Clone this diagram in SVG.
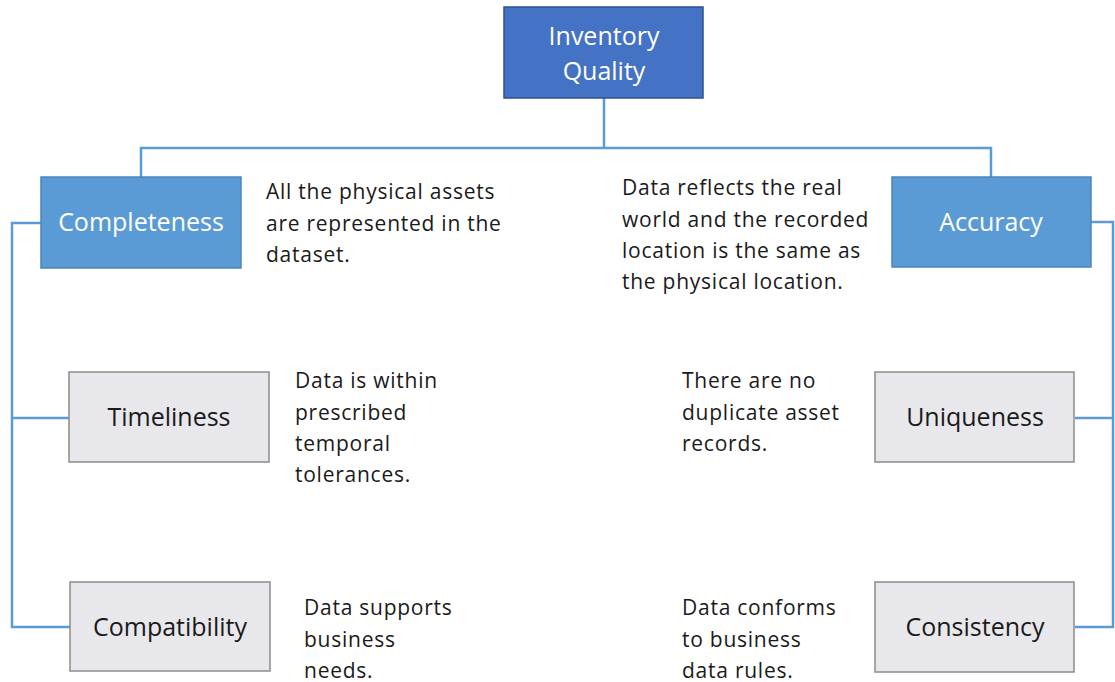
<svg xmlns="http://www.w3.org/2000/svg" width="1115" height="682" viewBox="0 0 1115 682">
<style>
.root{fill:#4472C4;stroke:#2F528F;stroke-width:1.5}
.l1{fill:#5B9BD5;stroke:#4A86BE;stroke-width:1.5}
.l2{fill:#E8E8EC;stroke:#8C8C8C;stroke-width:1.5}
.wt{font-family:"Open Sans",sans-serif;font-size:25px;fill:#FFFFFF;text-anchor:middle}
.bt{font-family:"Open Sans",sans-serif;font-size:25px;fill:#1A1A1A;text-anchor:middle}
.dt{font-family:"Open Sans",sans-serif;font-size:21px;fill:#1A1A1A;letter-spacing:0.75px}
.conn{fill:none;stroke:#5B9BD5;stroke-width:2.5}
</style>
<rect width="1115" height="682" fill="#FFFFFF"/>
<g id="connectors">
<path class="conn" d="M604,98 V148 M141,177 V148 H991 V177"/>
<path class="conn" d="M41,223 H12 V627 H70 M12,418 H70"/>
<path class="conn" d="M1091,222 H1113 V627 H1075 M1113,418 H1075"/>
</g>
<g id="inventory-quality">
<rect class="root" x="504" y="7" width="199" height="91"/>
<text class="wt" x="604" y="45">Inventory</text>
<text class="wt" x="604" y="80">Quality</text>
</g>
<g id="completeness">
<rect class="l1" x="41" y="177" width="200" height="91"/>
<text class="wt" x="141" y="231">Completeness</text>
</g>
<g id="completeness-desc">
<text class="dt" x="266" y="199">All the physical assets</text>
<text class="dt" x="266" y="231">are represented in the</text>
<text class="dt" x="266" y="262">dataset.</text>
</g>
<g id="accuracy">
<rect class="l1" x="892" y="177" width="199" height="90"/>
<text class="wt" x="991" y="231">Accuracy</text>
</g>
<g id="accuracy-desc">
<text class="dt" x="622" y="195">Data reflects the real</text>
<text class="dt" x="622" y="227">world and the recorded</text>
<text class="dt" x="622" y="258">location is the same as</text>
<text class="dt" x="622" y="289">the physical location.</text>
</g>
<g id="timeliness">
<rect class="l2" x="69" y="372" width="200" height="90"/>
<text class="bt" x="169" y="426">Timeliness</text>
</g>
<g id="timeliness-desc">
<text class="dt" x="295" y="388">Data is within</text>
<text class="dt" x="295" y="420">prescribed</text>
<text class="dt" x="295" y="451">temporal</text>
<text class="dt" x="295" y="482">tolerances.</text>
</g>
<g id="uniqueness">
<rect class="l2" x="875" y="372" width="199" height="90"/>
<text class="bt" x="975" y="426">Uniqueness</text>
</g>
<g id="uniqueness-desc">
<text class="dt" x="682" y="388">There are no</text>
<text class="dt" x="682" y="420">duplicate asset</text>
<text class="dt" x="682" y="451">records.</text>
</g>
<g id="compatibility">
<rect class="l2" x="70" y="582" width="200" height="89"/>
<text class="bt" x="170" y="636">Compatibility</text>
</g>
<g id="compatibility-desc">
<text class="dt" x="304" y="615">Data supports</text>
<text class="dt" x="304" y="647">business</text>
<text class="dt" x="304" y="678">needs.</text>
</g>
<g id="consistency">
<rect class="l2" x="875" y="582" width="199" height="90"/>
<text class="bt" x="975" y="636">Consistency</text>
</g>
<g id="consistency-desc">
<text class="dt" x="682" y="615">Data conforms</text>
<text class="dt" x="682" y="647">to business</text>
<text class="dt" x="682" y="678">data rules.</text>
</g>
</svg>
